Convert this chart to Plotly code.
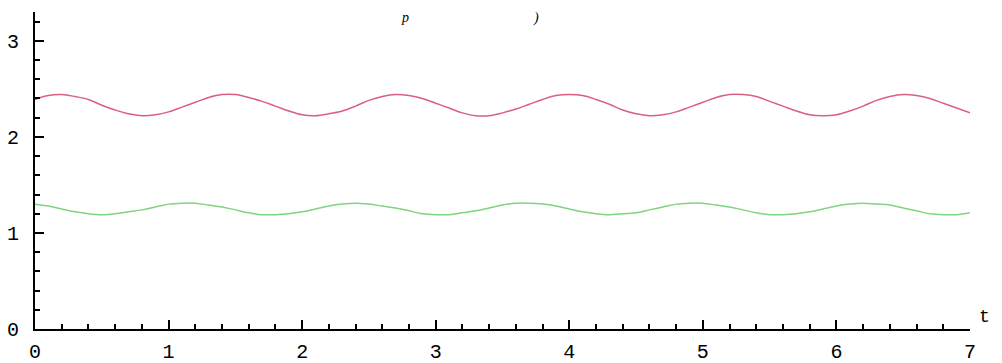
import plotly.graph_objects as go

t_values = [round(i * 0.1, 1) for i in range(71)]

red_values = [
    2.39, 2.43, 2.44, 2.42, 2.39, 2.33, 2.28, 2.24, 2.22, 2.23,
    2.26, 2.31, 2.36, 2.41, 2.44, 2.44, 2.41, 2.37, 2.32, 2.27,
    2.23, 2.22, 2.24, 2.27, 2.32, 2.38, 2.42, 2.44, 2.43, 2.40,
    2.35, 2.30, 2.25, 2.22, 2.22, 2.25, 2.29, 2.34, 2.39, 2.43,
    2.44, 2.43, 2.39, 2.34, 2.28, 2.24, 2.22, 2.23, 2.26, 2.31,
    2.36, 2.41, 2.44, 2.44, 2.42, 2.37, 2.32, 2.27, 2.23, 2.22,
    2.23, 2.27, 2.32, 2.38, 2.42, 2.44, 2.43, 2.40, 2.35, 2.30,
    2.25,
]

green_values = [
    1.30, 1.28, 1.25, 1.22, 1.20, 1.19, 1.20, 1.22, 1.24, 1.27,
    1.30, 1.31, 1.31, 1.29, 1.27, 1.24, 1.21, 1.19, 1.19, 1.20,
    1.22, 1.25, 1.28, 1.30, 1.31, 1.30, 1.28, 1.26, 1.23, 1.20,
    1.19, 1.19, 1.21, 1.23, 1.26, 1.29, 1.31, 1.31, 1.30, 1.28,
    1.25, 1.22, 1.20, 1.19, 1.20, 1.21, 1.24, 1.27, 1.30, 1.31,
    1.31, 1.29, 1.27, 1.24, 1.21, 1.19, 1.19, 1.20, 1.22, 1.25,
    1.28, 1.30, 1.31, 1.30, 1.29, 1.26, 1.23, 1.20, 1.19, 1.19,
    1.21,
]

x_tick_vals = [0, 1, 2, 3, 4, 5, 6, 7]
x_tick_text = ["0", "1", "2", "3", "4", "5", "6", "7"]
y_tick_vals = [0, 1, 2, 3]
y_tick_text = ["0", "1", "2", "3"]

fig = go.Figure()
fig.add_trace(go.Scatter(x=t_values, y=red_values, mode="lines",
                         line=dict(color="#d9607e", width=1.5, shape="spline"),
                         showlegend=False, hoverinfo="skip"))
fig.add_trace(go.Scatter(x=t_values, y=green_values, mode="lines",
                         line=dict(color="#7fd47f", width=1.5, shape="spline"),
                         showlegend=False, hoverinfo="skip"))

axis_font = dict(family="Liberation Mono", size=20, color="black")

fig.update_xaxes(range=[0, 7], showgrid=False, zeroline=False, automargin=False,
                 showline=True, linecolor="black", linewidth=2,
                 tickmode="array", tickvals=x_tick_vals, ticktext=x_tick_text,
                 ticks="inside", ticklen=9, tickwidth=2, tickcolor="black",
                 tickfont=axis_font, ticklabelstandoff=3,
                 minor=dict(dtick=0.2, ticks="inside", ticklen=5, tickwidth=1.5,
                            tickcolor="black", showgrid=False))
fig.update_yaxes(range=[0, 3.3], showgrid=False, zeroline=False, automargin=False,
                 showline=True, linecolor="black", linewidth=2,
                 tickmode="array", tickvals=y_tick_vals, ticktext=y_tick_text,
                 ticks="inside", ticklen=9, tickwidth=2, tickcolor="black",
                 tickfont=axis_font, ticklabelstandoff=10,
                 minor=dict(dtick=0.2, ticks="inside", ticklen=5, tickwidth=1.5,
                            tickcolor="black", showgrid=False))

fig.add_annotation(x=1.008, y=0.0, xref="paper", yref="paper",
                   xanchor="left", yanchor="bottom", text="t", showarrow=False,
                   font=dict(family="Liberation Mono", size=18, color="black"))
fig.add_annotation(x=(405 - 35) / 935, y=1.0126, xref="paper", yref="paper",
                   xanchor="center", yanchor="top", text="<i>p</i>",
                   showarrow=False,
                   font=dict(family="Liberation Serif", size=14, color="black"))
fig.add_annotation(x=(536 - 35) / 935, y=1.0126, xref="paper", yref="paper",
                   xanchor="center", yanchor="top", text="<i>)</i>",
                   showarrow=False,
                   font=dict(family="Liberation Serif", size=14, color="black"))

fig.update_layout(width=994, height=355,
                  margin=dict(l=27, r=32, t=4, b=34, autoexpand=False),
                  paper_bgcolor="white", plot_bgcolor="white")

fig.write_html("out.html")
